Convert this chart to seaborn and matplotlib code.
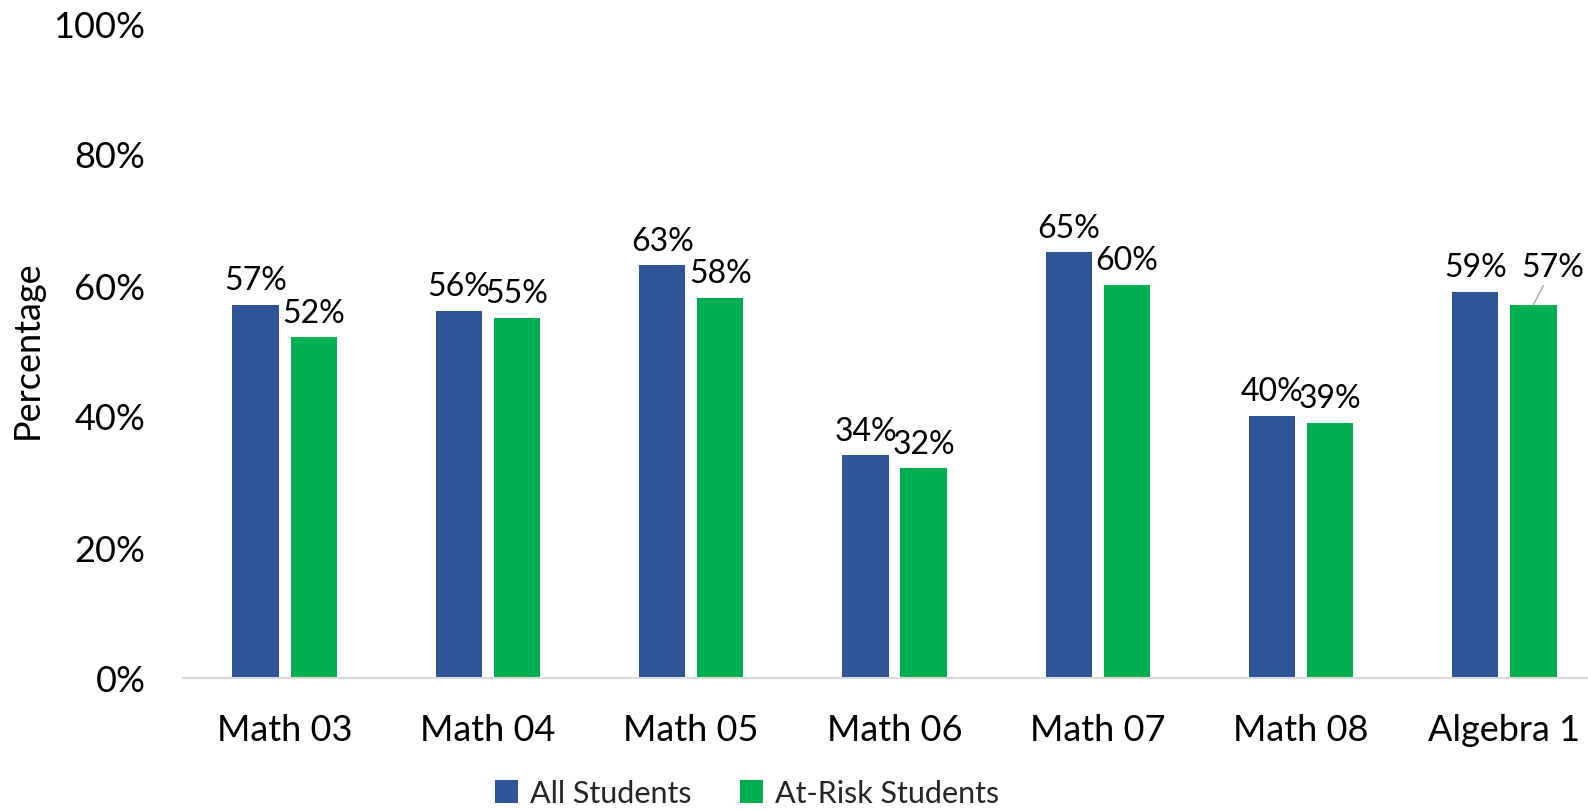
import matplotlib
matplotlib.use("Agg")
import matplotlib.pyplot as plt
import seaborn as sns
import pandas as pd
from matplotlib.patches import Patch
from matplotlib.ticker import FuncFormatter

categories = ["Math 03", "Math 04", "Math 05", "Math 06", "Math 07", "Math 08", "Algebra 1"]
series_names = ["All Students", "At-Risk Students"]
all_students = [57, 56, 63, 34, 65, 40, 59]
at_risk_students = [52, 55, 58, 32, 60, 39, 57]
y_ticks = [0, 20, 40, 60, 80, 100]
colors = ["#2F5597", "#00B050"]

df = pd.DataFrame({
    "Subject": categories * 2,
    "Percentage": all_students + at_risk_students,
    "Group": [series_names[0]] * len(categories) + [series_names[1]] * len(categories),
})

sns.set_theme(style="white")
plt.rcParams["font.family"] = ["Lato", "DejaVu Sans"]
FS = 26
DFS = 23
LFS = 22

W, H = 1588, 812
fig = plt.figure(figsize=(W / 100, H / 100), dpi=100)
ax = fig.add_axes([183 / W, (H - 679) / H, (1606 - 183) / W, (679 - 24) / H])

sns.barplot(data=df, x="Subject", y="Percentage", hue="Group", hue_order=series_names,
            palette=colors, width=0.572, gap=0.206, legend=False, ax=ax,
            saturation=1, edgecolor="none")

ax.set_xlim(-0.5, len(categories) - 0.5)
ax.set_ylim(0, 100)
ax.set_yticks(y_ticks)
ax.yaxis.set_major_formatter(FuncFormatter(lambda v, p: f"{int(v)}%"))
ax.tick_params(axis="y", length=0, pad=27, labelsize=FS, labelcolor="black")
ax.tick_params(axis="x", length=0, pad=25, labelsize=FS, labelcolor="black")
ax.set_xlabel("")
ax.set_ylabel("")
for s in ["left", "right", "top"]:
    ax.spines[s].set_visible(False)
ax.spines["bottom"].set_color("#D9D9D9")
ax.spines["bottom"].set_linewidth(1.5)
ax.grid(False)

fig.text(27.5 / W, 1 - 350 / H, "Percentage", rotation=90, ha="center", va="center",
         fontsize=FS, color="black")

# data labels
for ci, cont in enumerate(ax.containers):
    for bi, bar in enumerate(cont):
        x = bar.get_x() + bar.get_width() / 2
        h = bar.get_height()
        if ci == 1 and bi == len(categories) - 1:
            ax.annotate(f"{int(round(h))}%", xy=(x, h), xytext=(14, 16),
                        textcoords="offset points", ha="center", va="bottom",
                        fontsize=DFS, color="black",
                        arrowprops=dict(arrowstyle="-", color="#A6A6A6", lw=1,
                                        shrinkA=0, shrinkB=0))
        else:
            ax.annotate(f"{int(round(h))}%", xy=(x, h), xytext=(0, 7),
                        textcoords="offset points", ha="center", va="bottom",
                        fontsize=DFS, color="black")

handles = [Patch(facecolor=c, edgecolor="none", label=n) for c, n in zip(colors, series_names)]
fig.legend(handles=handles, loc="center", bbox_to_anchor=(747 / W, 1 - 794 / H),
           ncol=2, frameon=False, fontsize=LFS, handlelength=0.75, handleheight=0.75,
           handletextpad=0.4, columnspacing=1.6, borderpad=0)

fig.savefig("out.png", dpi=100)
